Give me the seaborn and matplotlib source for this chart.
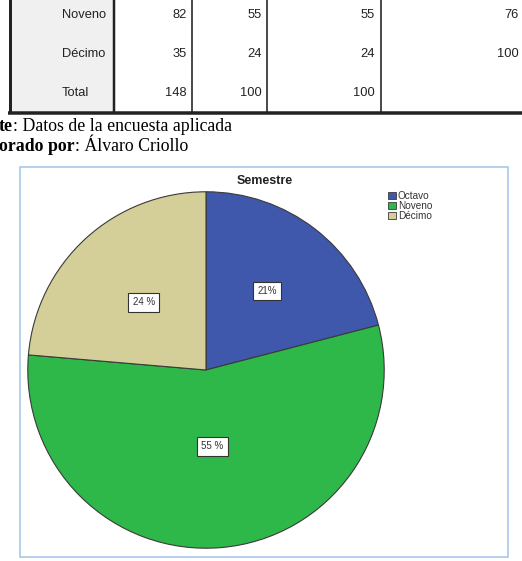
import matplotlib
matplotlib.use("Agg")
import matplotlib.pyplot as plt
from matplotlib.patches import Rectangle
import numpy as np
import seaborn as sns

# table rows visible at the top of the page
row_names = ["Noveno", "Décimo", "Total"]
frecuencia = ["82", "35", "148"]
porcentaje = ["55", "24", "100"]
pct_valido = ["55", "24", "100"]
pct_acumulado = ["76", "100", ""]

# pie data
semestres = ["Octavo", "Noveno", "Décimo"]
estudiantes = [31, 82, 35]
pct_labels = ["21%", "55 %", "24 %"]
colores = ["#3F58AB", "#2FB84A", "#D4CE98"]

W, H = 522, 561
sns.set_theme(style="white")
plt.rcParams["font.family"] = ["Liberation Sans", "DejaVu Sans"]

fig = plt.figure(figsize=(W / 100, H / 100), dpi=100)
fig.patch.set_facecolor("white")

# background axes in pixel coordinates
bg = fig.add_axes([0, 0, 1, 1])
bg.set_xlim(0, W)
bg.set_ylim(H, 0)
bg.axis("off")

# --- table fragment ---
bg.add_patch(Rectangle((11, -2), 102, 113, facecolor="#F0F0F0", edgecolor="none"))
px = 0.72  # points per pixel
bg.plot([9.5, 9.5], [-2, 113], color="#222222", lw=3 * px, solid_capstyle="butt")
bg.plot([113.8, 113.8], [-2, 113], color="#222222", lw=2.5 * px, solid_capstyle="butt")
for xv in [192, 267, 381]:
    bg.plot([xv, xv], [-2, 112], color="#222222", lw=1.6 * px, solid_capstyle="butt")
bg.plot([8, W], [112.5, 112.5], color="#222222", lw=3.5 * px, solid_capstyle="butt")

row_y = [15, 54, 93]
col_right = [187, 262, 375, 519]
for i, name in enumerate(row_names):
    y = row_y[i]
    bg.text(62, y, name, ha="left", va="center", fontsize=9.3, color="#222222")
    for xr, col in zip(col_right, [frecuencia, porcentaje, pct_valido, pct_acumulado]):
        bg.text(xr, y, col[i], ha="right", va="center", fontsize=9.3, color="#222222")

# --- source lines (serif, bold prefix) ---
renderer = fig.canvas.get_renderer()
serif = ["Liberation Serif", "DejaVu Serif"]
for y, bold, rest in [(126, "te", ": Datos de la encuesta aplicada"),
                      (146, "orado por", ": Álvaro Criollo")]:
    t = bg.text(-1, y, bold, ha="left", va="center", fontsize=12.8,
                fontweight="bold", family=serif, color="black")
    ext = t.get_window_extent(renderer=renderer)
    bg.text(ext.x1, y, rest, ha="left", va="center", fontsize=12.8,
            family=serif, color="black")

# --- chart frame ---
bg.add_patch(Rectangle((20, 167), 488, 390, facecolor="white",
                       edgecolor="#9DC3E6", lw=1.5 * px))

# --- pie ---
cx, cy, r = 206, 370, 180
pie_ax = fig.add_axes([(cx - r) / W, (H - cy - r) / H, 2 * r / W, 2 * r / H])
wedges, _ = pie_ax.pie(estudiantes, colors=colores, startangle=90, counterclock=False,
                       radius=1, wedgeprops=dict(edgecolor="#3A3A3A", linewidth=0.8))
pie_ax.set_xlim(-1.01, 1.01)
pie_ax.set_ylim(-1.01, 1.01)
pie_ax.axis("off")

label_dist = [0.56, 0.43, 0.515]
for w, lab, d in zip(wedges, pct_labels, label_dist):
    ang = np.deg2rad((w.theta1 + w.theta2) / 2)
    pie_ax.text(d * np.cos(ang), d * np.sin(ang), lab, ha="center", va="center",
                fontsize=7, color="#333333",
                bbox=dict(boxstyle="square,pad=0.45", facecolor="white",
                          edgecolor="#333333", linewidth=0.8))

fig.text(265 / W, 1 - 181 / H, "Semestre", ha="center", va="center",
         fontsize=9, fontweight="bold", color="#222222")

leg = fig.legend(wedges, semestres, loc="upper left",
                 bbox_to_anchor=(388 / W, 1 - 191 / H), frameon=False,
                 fontsize=7.2, handlelength=0.8, handleheight=0.8,
                 handletextpad=0.2, labelspacing=0.0, borderpad=0, borderaxespad=0)
for txt in leg.get_texts():
    txt.set_color("#333333")
for h in leg.legend_handles:
    h.set_edgecolor("#3A3A3A")
    h.set_linewidth(0.6)

fig.savefig("out.png", dpi=100, facecolor="white")
